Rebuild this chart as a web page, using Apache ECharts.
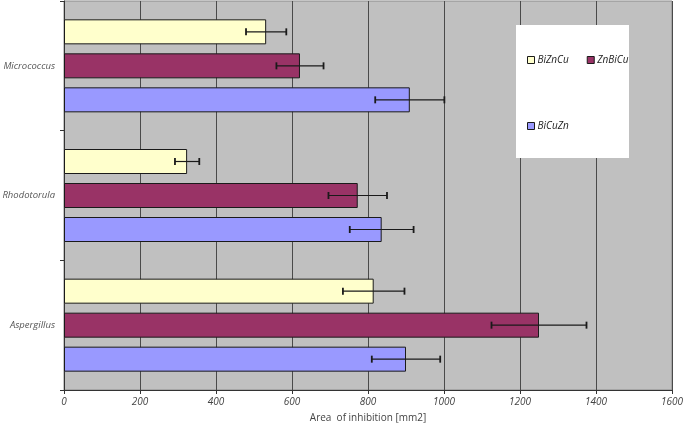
<!DOCTYPE html>
<html>
<head>
<meta charset="utf-8">
<script src="https://cdn.jsdelivr.net/npm/echarts@6/dist/echarts.min.js"></script>
<style>
html,body{margin:0;padding:0;background:#fff;}
#chart{width:685px;height:427px;}
</style>
</head>
<body>
<div id="chart"></div>
<script>
// ---- data ----
const categories = ['Micrococcus', 'Rhodotorula', 'Aspergillus'];
const seriesNames = ['BiZnCu', 'ZnBiCu', 'BiCuZn'];
const valBiZnCu = [532, 324, 815];
const valZnBiCu = [621, 773, 1250];
const valBiCuZn = [910, 836, 900];
const errBiZnCu = [53, 32, 81];
const errZnBiCu = [62, 77, 125];
const errBiCuZn = [91, 84, 90];
const xTicks = [0, 200, 400, 600, 800, 1000, 1200, 1400, 1600];

const values = [valBiZnCu, valZnBiCu, valBiCuZn];
const errors = [errBiZnCu, errZnBiCu, errBiCuZn];
const colors = ['#FFFFCC', '#993366', '#9999FF'];

const BAR_W = 25, BAR_GAP = 9;

const chart = echarts.init(document.getElementById('chart'), null, {renderer: 'canvas'});

const barSeries = seriesNames.map((name, i) => ({
  name: name,
  type: 'bar',
  data: values[i],
  barWidth: BAR_W,
  barGap: (BAR_GAP / BAR_W * 100) + '%',
  itemStyle: {color: colors[i], borderColor: '#1a1a1a', borderWidth: 1},
  emphasis: {disabled: true},
  z: 2
}));

const errSeries = seriesNames.map((name, i) => ({
  name: name + '_err',
  type: 'custom',
  z: 5,
  silent: true,
  encode: {x: 0, y: 1},
  data: values[i].map((v, c) => [v, c, errors[i][c]]),
  renderItem: function (params, api) {
    const v = api.value(0), c = api.value(1), e = api.value(2);
    const center = api.coord([v, c]);
    const off = (i - 1) * (BAR_W + BAR_GAP);
    const y = center[1] + off;
    const x1 = api.coord([v - e, c])[0];
    const x2 = api.coord([v + e, c])[0];
    const st = {stroke: '#1a1a1a', lineWidth: 1.2};
    const h = 3.5;
    return {
      type: 'group',
      children: [
        {type: 'line', shape: {x1: x1, y1: y, x2: x2, y2: y}, style: st},
        {type: 'line', shape: {x1: x1, y1: y - h, x2: x1, y2: y + h}, style: {stroke: '#1a1a1a', lineWidth: 1.8}},
        {type: 'line', shape: {x1: x2, y1: y - h, x2: x2, y2: y + h}, style: {stroke: '#1a1a1a', lineWidth: 1.8}}
      ]
    };
  }
}));

const legendCommon = {
  orient: 'horizontal',
  icon: 'rect',
  itemWidth: 7,
  itemHeight: 7,
  itemGap: 18,
  selectedMode: false,
  textStyle: {fontFamily: 'Open Sans', fontStyle: 'italic', fontSize: 10, color: '#222', padding: [0, 0, 0, -2]},
  itemStyle: {borderColor: '#1a1a1a', borderWidth: 1}
};

chart.setOption({
  animation: false,
  backgroundColor: '#ffffff',
  grid: {
    left: 64, right: 13, top: 1, bottom: 37,
    show: true, backgroundColor: '#C0C0C0', borderColor: '#8a8a8a', borderWidth: 1,
    containLabel: false,
    outerBoundsMode: 'none'
  },
  graphic: [{
    type: 'rect', left: 516, top: 25, z: 50,
    shape: {width: 113, height: 133},
    style: {fill: '#ffffff'}
  }],
  legend: [
    Object.assign({}, legendCommon, {data: [seriesNames[0], seriesNames[1]], left: 522, top: 50, z: 60}),
    Object.assign({}, legendCommon, {data: [seriesNames[2]], left: 522, top: 116, z: 60})
  ],
  xAxis: {
    type: 'value',
    min: xTicks[0], max: xTicks[xTicks.length - 1], interval: 200,
    name: 'Area  of inhibition [mm2]',
    nameLocation: 'middle', nameGap: 23,
    nameTextStyle: {fontFamily: 'Open Sans', fontSize: 10, color: '#444'},
    axisLine: {show: true, lineStyle: {color: '#333', width: 1}},
    axisTick: {show: true, length: 4, lineStyle: {color: '#333'}},
    axisLabel: {fontFamily: 'Open Sans', fontStyle: 'italic', fontSize: 10, color: '#444', margin: 7,
      formatter: function (v) { return String(v); }},
    splitLine: {show: true, lineStyle: {color: '#4a4a4a', width: 1}}
  },
  yAxis: {
    type: 'category',
    data: categories,
    inverse: true,
    axisLine: {show: true, lineStyle: {color: '#333', width: 1}},
    axisTick: {show: true, length: 4, lineStyle: {color: '#333'}},
    axisLabel: {fontFamily: 'Open Sans', fontStyle: 'italic', fontSize: 9.5, color: '#555', margin: 9},
    splitLine: {show: false}
  },
  series: barSeries.concat(errSeries)
});
</script>
</body>
</html>
